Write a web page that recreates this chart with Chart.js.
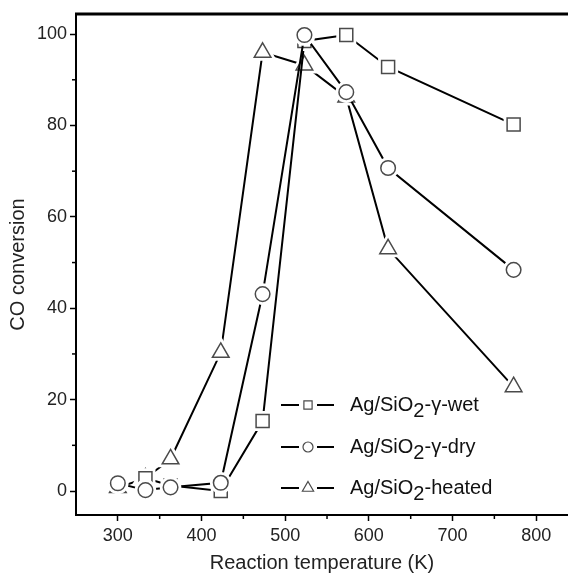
<!DOCTYPE html>
<html>
<head>
<meta charset="utf-8">
<script src="https://cdn.jsdelivr.net/npm/chart.js@4/dist/chart.umd.min.js"></script>
<style>
html,body{margin:0;padding:0;background:#fff;}
canvas{display:block;}
</style>
</head>
<body>
<canvas id="c" width="568" height="575"></canvas>
<script>
// ---- data ----
const wetT   = [333, 363, 423, 473, 523, 573, 623, 773];
const wetCO  = [2.8, 1.2, 0.0, 15.3, 98.5, 99.8, 92.8, 80.2];
const dryT   = [300, 333, 363, 423, 473, 523, 573, 623, 773];
const dryCO  = [1.7, 0.2, 0.8, 1.8, 43.1, 99.8, 87.3, 70.7, 48.4];
const heatT  = [300, 333, 363, 423, 473, 523, 573, 623, 773];
const heatCO = [0.7, 2.8, 7.0, 30.3, 96.0, 93.2, 86.2, 53.0, 22.8];
const seriesNames = ['Ag/SiO|2|-γ-wet', 'Ag/SiO|2|-γ-dry', 'Ag/SiO|2|-heated'];
const xTicks = [300, 400, 500, 600, 700, 800];
const xMinor = [350, 450, 550, 650, 750];
const yTicks = [0, 20, 40, 60, 80, 100];
const yMinor = [10, 30, 50, 70, 90];

const toPts = (xs, ys) => xs.map((x, i) => ({x: x, y: ys[i]}));
const FONT = "'Liberation Sans', Arial, sans-serif";
const MARK = '#4a4a4a';

function ds(label, xs, ys, style, r, order) {
  return {
    label: label, data: toPts(xs, ys), order: order,
    borderColor: '#000', borderWidth: 2, tension: 0, fill: false,
    pointStyle: style, pointRadius: r, pointHoverRadius: r,
    pointBackgroundColor: '#fff', pointBorderColor: MARK, pointBorderWidth: 1.5
  };
}

const markers = {
  id: 'markers',
  afterDatasetDraw(chart, args) {
    const ctx = chart.ctx;
    ctx.save();
    args.meta.data.forEach(el => {
      const o = el.options;
      const opt = {pointStyle: o.pointStyle, radius: o.radius, rotation: 0, borderWidth: 1};
      ctx.fillStyle = '#fff'; ctx.strokeStyle = '#fff'; ctx.lineWidth = 7;
      Chart.helpers.drawPoint(ctx, opt, el.x, el.y);
      ctx.fillStyle = '#fff'; ctx.strokeStyle = MARK; ctx.lineWidth = 1.5;
      Chart.helpers.drawPoint(ctx, opt, el.x, el.y);
    });
    ctx.restore();
  }
};

const extras = {
  id: 'extras',
  afterDraw(chart) {
    const ctx = chart.ctx, a = chart.chartArea;
    const xs = chart.scales.x, ys = chart.scales.y;
    ctx.save();
    // top frame line
    ctx.strokeStyle = '#000'; ctx.lineWidth = 3;
    ctx.beginPath(); ctx.moveTo(a.left - 1, a.top); ctx.lineTo(chart.width, a.top); ctx.stroke();
    // minor ticks
    ctx.lineWidth = 1.5;
    xMinor.forEach(v => {
      const p = xs.getPixelForValue(v);
      ctx.beginPath(); ctx.moveTo(p, a.bottom); ctx.lineTo(p, a.bottom + 4); ctx.stroke();
    });
    yMinor.forEach(v => {
      const p = ys.getPixelForValue(v);
      ctx.beginPath(); ctx.moveTo(a.left, p); ctx.lineTo(a.left - 4, p); ctx.stroke();
    });
    // legend
    const rows = [405, 447, 488];
    const styles = [['rect', 5.8], ['circle', 5], ['triangle', 6.5]];
    rows.forEach((y, i) => {
      ctx.strokeStyle = '#000'; ctx.lineWidth = 2;
      ctx.beginPath(); ctx.moveTo(281, y); ctx.lineTo(299, y); ctx.stroke();
      ctx.beginPath(); ctx.moveTo(317, y); ctx.lineTo(334, y); ctx.stroke();
      ctx.fillStyle = '#fff'; ctx.strokeStyle = MARK; ctx.lineWidth = 1.2;
      Chart.helpers.drawPoint(ctx, {pointStyle: styles[i][0], radius: styles[i][1], rotation: 0, borderWidth: 1}, 308, y);
      const parts = seriesNames[i].split('|');
      ctx.fillStyle = '#111'; ctx.textBaseline = 'middle'; ctx.textAlign = 'left';
      let x = 350;
      ctx.font = '20px ' + FONT;
      ctx.fillText(parts[0], x, y); x += ctx.measureText(parts[0]).width;
      ctx.fillText(parts[1], x, y + 6); x += ctx.measureText(parts[1]).width;
      ctx.fillText(parts[2], x, y);
    });
    ctx.restore();
  }
};

new Chart(document.getElementById('c'), {
  type: 'line',
  data: {
    datasets: [
      ds(seriesNames[0].replace(/\|/g, ''), wetT, wetCO, 'rect', 9.2, 1),
      ds(seriesNames[1].replace(/\|/g, ''), dryT, dryCO, 'circle', 7.3, 0),
      ds(seriesNames[2].replace(/\|/g, ''), heatT, heatCO, 'triangle', 9.6, 2)
    ]
  },
  options: {
    responsive: false, animation: false, devicePixelRatio: 1,
    layout: {autoPadding: false, padding: {top: 14, right: 0, left: 0, bottom: 0}},
    plugins: {legend: {display: false}, tooltip: {enabled: false}},
    scales: {
      x: {
        type: 'linear', min: 250, max: 838,
        afterBuildTicks: s => { s.ticks = xTicks.map(v => ({value: v})); },
        afterFit: s => { s.height = 60; s.paddingRight = 0; s.paddingLeft = 0; },
        ticks: {font: {size: 18, family: FONT}, color: '#222', padding: 4, maxRotation: 0},
        grid: {drawOnChartArea: false, drawTicks: true, tickLength: 6, tickColor: '#000', tickWidth: 1.5},
        border: {display: true, color: '#000', width: 2},
        title: {display: true, text: 'Reaction temperature (K)', font: {size: 20, family: FONT}, color: '#222', padding: {top: 0, bottom: 0}}
      },
      y: {
        type: 'linear', min: -5.25, max: 104.4,
        afterBuildTicks: s => { s.ticks = yTicks.map(v => ({value: v})); },
        afterFit: s => { s.width = 76; s.paddingTop = 0; s.paddingBottom = 0; },
        ticks: {font: {size: 18, family: FONT}, color: '#222', padding: 3},
        grid: {drawOnChartArea: false, drawTicks: true, tickLength: 6, tickColor: '#000', tickWidth: 1.5},
        border: {display: true, color: '#000', width: 2},
        title: {display: true, text: 'CO conversion', font: {size: 20, family: FONT}, color: '#222', padding: {top: 6, bottom: 0}}
      }
    }
  },
  plugins: [markers, extras]
});
</script>
</body>
</html>
